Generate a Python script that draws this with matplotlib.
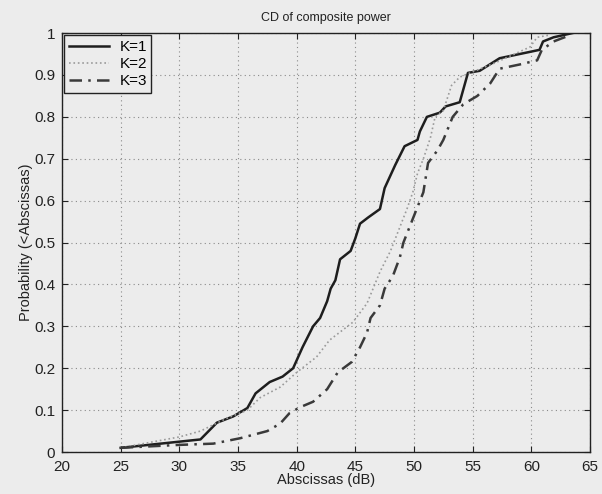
import matplotlib

matplotlib.use("Agg")
import matplotlib.pyplot as plt

# values (CDF curves)
k1_x = [25, 31.8, 33.2, 34.6, 35.8, 36.5, 37.7, 38.8, 39.7, 40.5, 41.4, 42.0,
        42.6, 42.9, 43.3, 43.7, 44.6, 45.0, 45.4, 46.1, 47.1, 47.5, 48.4, 49.2,
        50.3, 50.5, 51.1, 52.2, 52.7, 53.9, 54.6, 55.6, 57.3, 60.7, 61.0, 61.9,
        63.5]
k1_y = [0.01, 0.03, 0.07, 0.085, 0.105, 0.14, 0.167, 0.18, 0.20, 0.25, 0.30,
        0.32, 0.36, 0.39, 0.41, 0.46, 0.48, 0.51, 0.545, 0.56, 0.58, 0.63, 0.685,
        0.73, 0.745, 0.765, 0.80, 0.81, 0.825, 0.835, 0.905, 0.91, 0.94, 0.96,
        0.98, 0.99, 1.0]

k2_x = [25, 30.0, 31.8, 34.0, 35.8, 36.9, 38.6, 40.0, 41.7, 42.8, 44.8, 46.0,
        47.1, 48.0, 49.4, 49.9, 50.3, 50.8, 51.4, 51.8, 52.5, 53.2, 53.9, 54.8,
        57.0, 59.9, 60.5, 61.5]
k2_y = [0.01, 0.036, 0.05, 0.08, 0.10, 0.13, 0.155, 0.19, 0.227, 0.267, 0.31,
        0.355, 0.43, 0.48, 0.58, 0.62, 0.665, 0.70, 0.75, 0.80, 0.815, 0.875,
        0.895, 0.905, 0.93, 0.967, 0.99, 0.995]

k3_x = [25, 30.0, 32.9, 35.2, 37.5, 38.6, 39.4, 40.3, 41.4, 42.6, 43.5, 44.7,
        45.4, 46.0, 46.3, 47.1, 47.5, 48.2, 48.8, 49.1, 50.3, 50.8, 51.2, 52.0,
        52.5, 53.3, 54.2, 55.4, 56.5, 57.3, 59.0, 60.5, 60.9, 61.9, 63.3]
k3_y = [0.01, 0.017, 0.02, 0.033, 0.05, 0.068, 0.093, 0.107, 0.12, 0.15, 0.19,
        0.215, 0.25, 0.285, 0.32, 0.35, 0.39, 0.42, 0.465, 0.50, 0.585, 0.62,
        0.69, 0.72, 0.745, 0.80, 0.83, 0.85, 0.88, 0.915, 0.925, 0.935, 0.96,
        0.98, 0.995]

x_ticks = [20, 25, 30, 35, 40, 45, 50, 55, 60, 65]
y_ticks = [0, 0.1, 0.2, 0.3, 0.4, 0.5, 0.6, 0.7, 0.8, 0.9, 1]
y_tick_labels = ["0", "0.1", "0.2", "0.3", "0.4", "0.5", "0.6", "0.7", "0.8",
                 "0.9", "1"]

bg = "#ececec"
plt.rcParams["font.family"] = ["Liberation Sans", "DejaVu Sans"]

fig = plt.figure(figsize=(6.02, 4.94), dpi=100, facecolor=bg)
ax = fig.add_axes([0.103, 0.085, 0.877, 0.848], facecolor=bg)

ax.plot(k1_x, k1_y, color="#1e1e1e", linewidth=1.8, linestyle="-", label="K=1")
ax.plot(k2_x, k2_y, color="#9a9a9a", linewidth=1.2, linestyle=":", label="K=2")
ax.plot(k3_x, k3_y, color="#3a3a3a", linewidth=1.8,
        linestyle=(0, (5, 2.5, 1, 2.5)), label="K=3")

ax.set_xlim(20, 65)
ax.set_ylim(0, 1)
ax.set_xticks(x_ticks)
ax.set_yticks(y_ticks)
ax.set_yticklabels(y_tick_labels)
ax.tick_params(direction="in", top=True, right=True, labelsize=11,
               length=4, width=0.8, colors="#222222")
ax.tick_params(axis="x", pad=6)
ax.tick_params(axis="y", pad=5)
ax.grid(True, linestyle=(0, (1, 3)), color="#8a8a8a", linewidth=0.8)

for spine in ax.spines.values():
    spine.set_color("#222222")
    spine.set_linewidth(1.0)

ax.set_title("CD of composite power", fontsize=9, color="#222222", pad=9)
ax.set_xlabel("Abscissas (dB)", fontsize=10.5, color="#222222", labelpad=-1)
ax.set_ylabel("Probability (<Abscissas)", fontsize=10.5, color="#222222",
              labelpad=1)

leg = ax.legend(loc="upper left", fontsize=11, frameon=True, fancybox=False,
                borderaxespad=0.15, handlelength=2.6, labelspacing=0.2,
                borderpad=0.3, handletextpad=0.7)
leg.get_frame().set_edgecolor("#222222")
leg.get_frame().set_facecolor(bg)
leg.get_frame().set_alpha(1.0)
leg.get_frame().set_linewidth(1.0)

fig.savefig("out.png", dpi=100, facecolor=bg)
